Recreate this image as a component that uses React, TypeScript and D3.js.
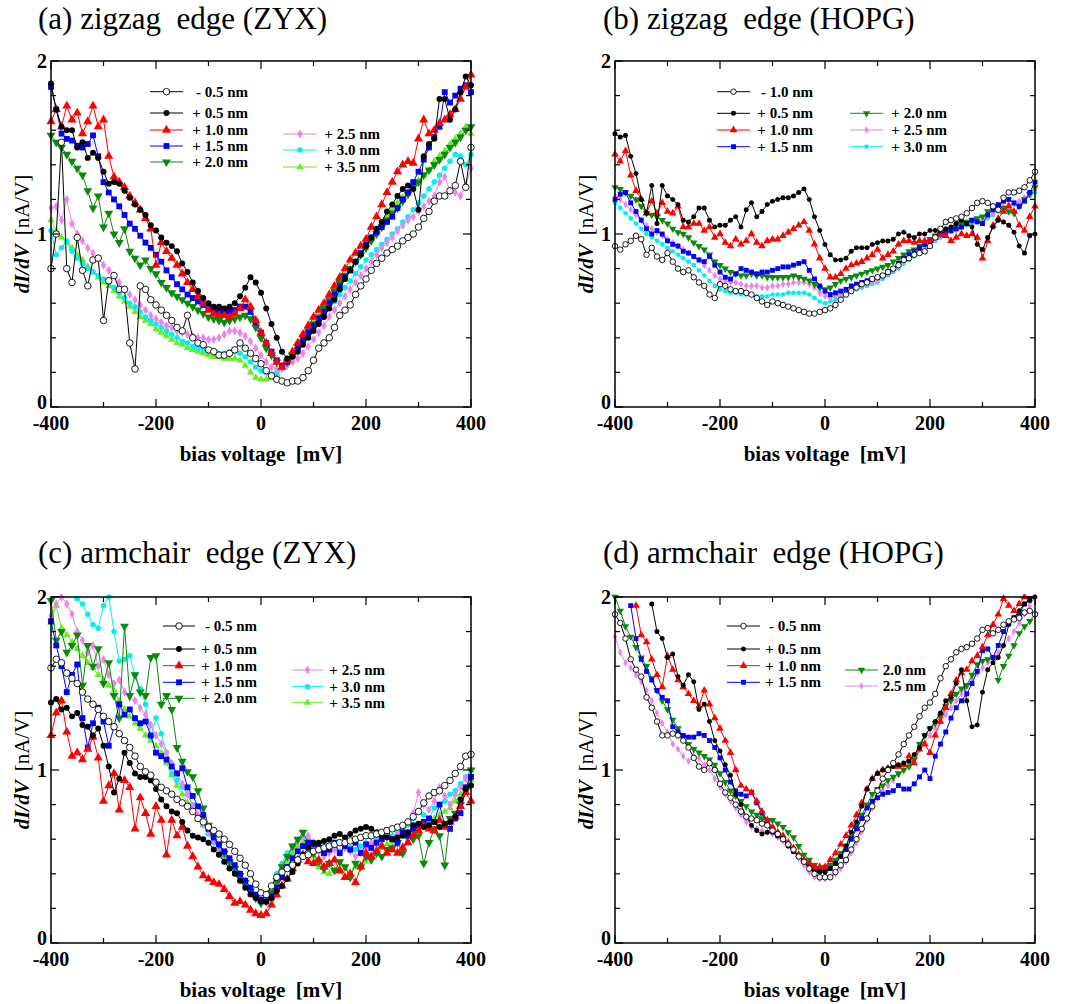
import React from 'react';
import * as d3 from 'd3';

// bias voltage grid, mV
const biasMv = [
  -400, -390, -380, -370, -360, -350, -340, -330, -320,
  -310, -300, -290, -280, -270, -260, -250, -240, -230,
  -220, -210, -200, -190, -180, -170, -160, -150, -140,
  -130, -120, -110, -100, -90, -80, -70, -60, -50,
  -40, -30, -20, -10, 0, 10, 20, 30, 40,
  50, 60, 70, 80, 90, 100, 110, 120, 130,
  140, 150, 160, 170, 180, 190, 200, 210, 220,
  230, 240, 250, 260, 270, 280, 290, 300, 310,
  320, 330, 340, 350, 360, 370, 380, 390, 400,
];

// (a) zigzag edge (ZYX), dI/dV in nA/V
const zzZyxM05 = [
  0.80, 1.00, 1.53, 0.80, 0.72, 0.98, 0.79, 0.70, 0.85,
  0.86, 0.50, 0.73, 0.76, 0.68, 0.68, 0.37, 0.22, 0.70,
  0.68, 0.62, 0.59, 0.56, 0.53, 0.50, 0.46, 0.44, 0.53,
  0.40, 0.37, 0.36, 0.33, 0.32, 0.30, 0.30, 0.31, 0.33,
  0.37, 0.34, 0.31, 0.28, 0.25, 0.21, 0.18, 0.16, 0.15,
  0.14, 0.15, 0.15, 0.17, 0.21, 0.27, 0.34, 0.37, 0.40,
  0.46, 0.53, 0.56, 0.59, 0.65, 0.70, 0.74, 0.79, 0.83,
  0.86, 0.89, 0.91, 0.93, 0.96, 0.98, 1.00, 1.04, 1.09,
  1.13, 1.19, 1.22, 1.22, 1.25, 1.28, 1.42, 1.27, 1.50,
];
const zzZyxP05 = [
  1.87, 1.72, 1.62, 1.60, 1.60, 1.50, 1.53, 1.44, 1.47,
  1.44, 1.36, 1.29, 1.30, 1.29, 1.25, 1.21, 1.17, 1.14,
  1.11, 1.05, 1.02, 0.98, 0.95, 0.93, 0.90, 0.83, 0.78,
  0.72, 0.67, 0.63, 0.60, 0.58, 0.58, 0.57, 0.58, 0.60,
  0.64, 0.69, 0.75, 0.72, 0.66, 0.57, 0.48, 0.40, 0.32,
  0.28, 0.29, 0.32, 0.36, 0.40, 0.44, 0.48, 0.52, 0.57,
  0.62, 0.68, 0.74, 0.79, 0.84, 0.88, 0.93, 0.98, 1.03,
  1.07, 1.13, 1.17, 1.22, 1.26, 1.28, 1.26, 1.14, 1.45,
  1.52, 1.55, 1.78, 1.78, 1.66, 1.72, 1.82, 1.91, 1.86,
];
const zzZyxP10 = [
  1.65, 1.72, 1.62, 1.74, 1.66, 1.70, 1.58, 1.65, 1.74,
  1.62, 1.66, 1.45, 1.33, 1.30, 1.27, 1.22, 1.18, 1.14,
  1.09, 1.03, 0.82, 0.95, 0.90, 0.86, 0.82, 0.77, 0.72,
  0.68, 0.64, 0.60, 0.56, 0.54, 0.53, 0.53, 0.52, 0.54,
  0.57, 0.62, 0.58, 0.50, 0.43, 0.37, 0.31, 0.26, 0.23,
  0.27, 0.32, 0.37, 0.42, 0.47, 0.52, 0.56, 0.60, 0.65,
  0.70, 0.75, 0.80, 0.85, 0.89, 0.93, 0.97, 1.04, 1.10,
  1.17, 1.24, 1.30, 1.36, 1.40, 1.42, 1.41, 1.55, 1.66,
  1.58, 1.60, 1.64, 1.66, 1.69, 1.72, 1.78, 1.85, 1.92,
];
const zzZyxP15 = [
  1.85, 1.72, 1.58, 1.55, 1.54, 1.51, 1.50, 1.52, 1.57,
  1.45, 1.30, 1.24, 1.20, 1.16, 1.11, 1.06, 1.03, 0.99,
  0.95, 0.92, 0.88, 0.84, 0.79, 0.75, 0.71, 0.68, 0.65,
  0.63, 0.61, 0.59, 0.57, 0.56, 0.55, 0.55, 0.55, 0.56,
  0.58, 0.58, 0.55, 0.49, 0.43, 0.37, 0.32, 0.27, 0.24,
  0.26, 0.30, 0.34, 0.39, 0.43, 0.47, 0.51, 0.55, 0.60,
  0.65, 0.70, 0.75, 0.79, 0.84, 0.89, 0.94, 0.98, 1.01,
  1.04, 1.07, 1.10, 1.15, 1.20, 1.24, 1.30, 1.36, 1.43,
  1.50, 1.56, 1.62, 1.82, 1.76, 1.80, 1.84, 1.86, 1.82,
];
const zzZyxP20 = [
  1.57, 1.53, 1.50, 1.46, 1.42, 1.38, 1.34, 1.25, 1.15,
  1.22, 1.04, 1.12, 1.00, 0.95, 1.03, 0.90, 0.86, 0.82,
  0.85, 0.80, 0.77, 0.72, 0.69, 0.66, 0.64, 0.62, 0.60,
  0.58, 0.56, 0.54, 0.52, 0.51, 0.50, 0.49, 0.50, 0.51,
  0.52, 0.53, 0.51, 0.46, 0.40, 0.34, 0.30, 0.26, 0.24,
  0.26, 0.30, 0.35, 0.40, 0.44, 0.48, 0.52, 0.57, 0.62,
  0.67, 0.72, 0.76, 0.80, 0.84, 0.88, 0.92, 0.96, 1.00,
  1.04, 1.08, 1.12, 1.15, 1.19, 1.23, 1.27, 1.30, 1.34,
  1.37, 1.40, 1.43, 1.46, 1.50, 1.53, 1.56, 1.60, 1.62,
];
const zzZyxP25 = [
  1.15, 1.16, 1.08, 1.20, 1.06, 1.00, 0.96, 0.92, 0.89,
  0.86, 0.82, 0.79, 0.76, 0.72, 0.68, 0.65, 0.62, 0.59,
  0.56, 0.53, 0.51, 0.49, 0.47, 0.46, 0.44, 0.43, 0.42,
  0.41, 0.40, 0.40, 0.39, 0.39, 0.40, 0.42, 0.44, 0.44,
  0.43, 0.41, 0.38, 0.34, 0.30, 0.26, 0.23, 0.22, 0.22,
  0.24, 0.26, 0.28, 0.31, 0.35, 0.39, 0.43, 0.47, 0.52,
  0.56, 0.60, 0.64, 0.68, 0.72, 0.76, 0.80, 0.84, 0.88,
  0.92, 0.95, 0.98, 1.02, 1.05, 1.08, 1.10, 1.13, 1.16,
  1.19, 1.22, 1.30, 1.33, 1.25, 1.24, 1.22, 1.28, 1.38,
];
const zzZyxP30 = [
  1.02, 0.88, 0.92, 0.96, 0.90, 0.86, 0.83, 0.80, 0.78,
  0.76, 0.74, 0.72, 0.69, 0.66, 0.63, 0.60, 0.58, 0.55,
  0.52, 0.50, 0.48, 0.46, 0.44, 0.42, 0.40, 0.38, 0.37,
  0.35, 0.34, 0.33, 0.32, 0.32, 0.31, 0.31, 0.32, 0.32,
  0.31, 0.29, 0.26, 0.23, 0.21, 0.20, 0.19, 0.20, 0.22,
  0.25, 0.29, 0.33, 0.37, 0.41, 0.45, 0.49, 0.53, 0.57,
  0.61, 0.65, 0.69, 0.73, 0.77, 0.81, 0.85, 0.88, 0.91,
  0.94, 0.97, 1.00, 1.03, 1.07, 1.10, 1.14, 1.18, 1.22,
  1.26, 1.30, 1.34, 1.38, 1.42, 1.46, 1.45, 1.40, 1.46,
];
const zzZyxP35 = [
  1.08, 1.02, 0.98, 0.95, 0.92, 0.88, 0.85, 0.81, 0.78,
  0.75, 0.72, 0.70, 0.67, 0.64, 0.61, 0.58, 0.55, 0.52,
  0.50, 0.48, 0.45, 0.43, 0.41, 0.39, 0.37, 0.36, 0.34,
  0.33, 0.32, 0.31, 0.30, 0.29, 0.29, 0.28, 0.28, 0.28,
  0.27, 0.24, 0.20, 0.17, 0.16, 0.16, 0.17, 0.19, 0.22,
  0.26, 0.30, 0.35, 0.40, 0.45, 0.49, 0.53, 0.57, 0.61,
  0.66, 0.71, 0.76, 0.80, 0.84, 0.88, 0.92, 0.97, 1.02,
  1.06, 1.10, 1.14, 1.18, 1.21, 1.24, 1.27, 1.31, 1.34,
  1.37, 1.42, 1.45, 1.48, 1.52, 1.55, 1.58, 1.62, 1.58,
];

// (b) zigzag edge (HOPG)
const zzHopgM10 = [
  0.93, 0.91, 0.94, 0.96, 0.99, 0.97, 0.88, 0.92, 0.87,
  0.85, 0.89, 0.84, 0.80, 0.78, 0.79, 0.75, 0.72, 0.70,
  0.65, 0.63, 0.71, 0.70, 0.68, 0.67, 0.67, 0.66, 0.65,
  0.63, 0.61, 0.59, 0.61, 0.60, 0.59, 0.58, 0.57, 0.56,
  0.55, 0.54, 0.54, 0.55, 0.56, 0.57, 0.59, 0.62, 0.65,
  0.67, 0.69, 0.71, 0.72, 0.74, 0.75, 0.76, 0.78, 0.80,
  0.82, 0.85, 0.86, 0.88, 0.89, 0.90, 0.93, 0.98, 1.03,
  1.07, 1.08, 1.09, 1.10, 1.12, 1.15, 1.18, 1.19, 1.18,
  1.16, 1.14, 1.21, 1.24, 1.24, 1.25, 1.27, 1.31, 1.36,
];
const zzHopgP05 = [
  1.58, 1.56, 1.57, 1.45, 1.35, 1.20, 1.12, 1.28, 1.06,
  1.28, 1.22, 1.20, 1.17, 1.08, 1.07, 1.10, 1.15, 1.15,
  1.08, 1.04, 1.05, 1.05, 1.08, 1.10, 1.04, 1.14, 1.18,
  1.10, 1.13, 1.17, 1.19, 1.20, 1.21, 1.21, 1.22, 1.24,
  1.26, 1.20, 1.10, 1.02, 0.94, 0.88, 0.85, 0.85, 0.86,
  0.90, 0.92, 0.92, 0.92, 0.94, 0.95, 0.96, 0.96, 0.97,
  1.00, 1.01, 0.99, 0.98, 1.00, 1.00, 1.02, 1.02, 1.02,
  1.03, 1.04, 1.06, 1.08, 1.06, 1.04, 0.94, 0.91, 0.98,
  1.04, 1.08, 1.07, 1.05, 1.01, 0.93, 0.89, 0.99, 1.00,
];
const zzHopgP10 = [
  1.46, 1.42, 1.48, 1.34, 1.25, 1.20, 1.12, 1.19, 1.12,
  1.18, 1.13, 1.12, 1.16, 1.04, 1.04, 1.06, 1.06, 1.02,
  1.04, 0.98, 1.00, 0.95, 0.93, 0.97, 0.94, 0.96, 1.00,
  0.95, 0.93, 0.96, 0.97, 0.97, 0.99, 1.01, 1.03, 1.05,
  1.07, 1.02, 0.94, 0.86, 0.80, 0.75, 0.75, 0.77, 0.80,
  0.82, 0.83, 0.84, 0.86, 0.88, 0.91, 0.86, 0.88, 0.90,
  0.94, 0.96, 0.96, 0.95, 0.96, 0.96, 0.96, 0.98, 1.00,
  0.99, 0.96, 0.98, 1.00, 0.99, 1.00, 0.98, 0.86, 0.96,
  1.05, 1.09, 1.13, 1.16, 1.13, 1.05, 1.02, 1.10, 1.16,
];
const zzHopgP15 = [
  1.20, 1.23, 1.24, 1.18, 1.13, 1.08, 1.03, 1.00, 1.02,
  1.00, 0.96, 0.94, 0.93, 0.90, 0.89, 0.87, 0.85, 0.84,
  0.87, 0.82, 0.78, 0.75, 0.74, 0.77, 0.80, 0.79, 0.78,
  0.77, 0.78, 0.78, 0.79, 0.80, 0.81, 0.81, 0.82, 0.83,
  0.84, 0.79, 0.74, 0.70, 0.67, 0.65, 0.66, 0.67, 0.68,
  0.70, 0.71, 0.72, 0.73, 0.74, 0.75, 0.76, 0.78, 0.80,
  0.83, 0.86, 0.88, 0.90, 0.92, 0.94, 0.96, 0.98, 1.00,
  1.01, 1.02, 1.03, 1.04, 1.06, 1.08, 1.07, 1.06, 1.11,
  1.14, 1.17, 1.19, 1.20, 1.18, 1.16, 1.19, 1.24, 1.30,
];
const zzHopgP20 = [
  1.27, 1.26, 1.24, 1.22, 1.20, 1.16, 1.12, 1.11, 1.10,
  1.08, 1.06, 1.03, 1.01, 1.00, 0.98, 0.95, 0.93, 0.91,
  0.88, 0.84, 0.82, 0.80, 0.78, 0.77, 0.76, 0.76, 0.77,
  0.76, 0.76, 0.75, 0.75, 0.75, 0.75, 0.75, 0.76, 0.75,
  0.74, 0.73, 0.71, 0.69, 0.68, 0.69, 0.71, 0.73, 0.74,
  0.75, 0.76, 0.77, 0.78, 0.79, 0.80, 0.81, 0.82, 0.84,
  0.86, 0.88, 0.90, 0.91, 0.93, 0.95, 0.97, 0.99, 1.00,
  1.02, 1.03, 1.05, 1.06, 1.07, 1.08, 1.09, 1.10, 1.13,
  1.16, 1.16, 1.15, 1.13, 1.12, 1.16, 1.20, 1.23, 1.27,
];
const zzHopgP25 = [
  1.22, 1.20, 1.17, 1.14, 1.11, 1.08, 1.05, 1.03, 1.01,
  0.99, 0.97, 0.95, 0.93, 0.91, 0.89, 0.87, 0.85, 0.82,
  0.79, 0.76, 0.74, 0.73, 0.72, 0.72, 0.71, 0.70, 0.70,
  0.70, 0.69, 0.69, 0.70, 0.70, 0.71, 0.71, 0.72, 0.72,
  0.72, 0.71, 0.69, 0.66, 0.64, 0.63, 0.64, 0.65, 0.66,
  0.68, 0.69, 0.70, 0.71, 0.72, 0.73, 0.75, 0.77, 0.79,
  0.81, 0.84, 0.86, 0.88, 0.90, 0.93, 0.95, 0.97, 0.99,
  1.01, 1.02, 1.03, 1.05, 1.06, 1.07, 1.08, 1.08, 1.10,
  1.12, 1.14, 1.16, 1.17, 1.18, 1.19, 1.21, 1.23, 1.25,
];
const zzHopgP30 = [
  1.18, 1.15, 1.12, 1.09, 1.06, 1.03, 1.00, 0.98, 0.96,
  0.94, 0.92, 0.90, 0.88, 0.86, 0.84, 0.82, 0.79, 0.76,
  0.73, 0.70, 0.68, 0.67, 0.66, 0.66, 0.65, 0.65, 0.65,
  0.64, 0.64, 0.64, 0.65, 0.65, 0.65, 0.66, 0.66, 0.66,
  0.66, 0.65, 0.63, 0.61, 0.60, 0.61, 0.62, 0.64, 0.65,
  0.67, 0.68, 0.69, 0.70, 0.71, 0.72, 0.74, 0.76, 0.78,
  0.80, 0.83, 0.85, 0.87, 0.89, 0.92, 0.94, 0.96, 0.98,
  1.00, 1.01, 1.02, 1.04, 1.05, 1.06, 1.07, 1.07, 1.09,
  1.11, 1.13, 1.15, 1.16, 1.17, 1.18, 1.20, 1.22, 1.24,
];

// (c) armchair edge (ZYX)
const acZyxM05 = [
  1.59, 1.64, 1.62, 1.56, 1.53, 1.50, 1.45, 1.41, 1.38,
  1.35, 1.31, 1.28, 1.25, 1.21, 1.17, 1.13, 1.08, 1.02,
  0.99, 0.97, 0.93, 0.90, 0.88, 0.86, 0.83, 0.81, 0.79,
  0.76, 0.72, 0.70, 0.67, 0.65, 0.63, 0.60, 0.57, 0.53,
  0.49, 0.45, 0.40, 0.34, 0.29, 0.28, 0.33, 0.38, 0.41,
  0.43, 0.45, 0.48, 0.50, 0.51, 0.53, 0.54, 0.55, 0.56,
  0.57, 0.58, 0.58, 0.59, 0.60, 0.61, 0.62, 0.62, 0.63,
  0.64, 0.65, 0.66, 0.67, 0.68, 0.70, 0.73, 0.76, 0.81,
  0.85, 0.87, 0.88, 0.91, 0.94, 0.98, 1.02, 1.08, 1.09,
];
const acZyxP05 = [
  1.39, 1.41, 1.35, 1.36, 1.31, 1.33, 1.26, 1.25, 1.20,
  1.24, 1.14, 1.02, 0.87, 0.95, 1.10, 1.04, 0.98, 0.96,
  0.96, 0.94, 0.89, 0.83, 0.79, 0.76, 0.75, 0.70, 0.65,
  0.62, 0.61, 0.60, 0.58, 0.54, 0.51, 0.47, 0.43, 0.40,
  0.36, 0.32, 0.28, 0.26, 0.24, 0.24, 0.26, 0.30, 0.33,
  0.37, 0.41, 0.46, 0.51, 0.55, 0.58, 0.58, 0.59, 0.60,
  0.62, 0.63, 0.61, 0.63, 0.65, 0.66, 0.67, 0.66, 0.64,
  0.62, 0.61, 0.60, 0.61, 0.62, 0.64, 0.68, 0.69, 0.67,
  0.68, 0.70, 0.67, 0.69, 0.70, 0.73, 0.83, 0.89, 0.91,
];
const acZyxP10 = [
  1.20, 1.33, 1.40, 1.22, 1.08, 1.10, 1.06, 1.12, 1.19,
  1.07, 0.82, 0.91, 0.98, 0.77, 0.94, 0.90, 0.66, 0.84,
  0.75, 0.63, 0.79, 0.71, 0.51, 0.71, 0.62, 0.67, 0.56,
  0.50, 0.44, 0.39, 0.37, 0.35, 0.34, 0.31, 0.27, 0.23,
  0.24, 0.22, 0.19, 0.17, 0.16, 0.17, 0.22, 0.28, 0.33,
  0.37, 0.43, 0.48, 0.51, 0.47, 0.46, 0.48, 0.44, 0.46,
  0.48, 0.42, 0.38, 0.40, 0.35, 0.44, 0.52, 0.50, 0.53,
  0.56, 0.52, 0.54, 0.52, 0.55, 0.58, 0.62, 0.65, 0.68,
  0.66, 0.65, 0.71, 0.67, 0.70, 0.73, 0.79, 0.87, 0.82,
];
const acZyxP15 = [
  1.86, 1.72, 1.60, 1.45, 1.55, 1.61, 1.30, 1.13, 1.27,
  1.36, 1.28, 1.14, 1.25, 1.38, 1.32, 1.35, 1.30, 1.27,
  1.28, 1.20, 1.10, 1.08, 1.06, 1.02, 0.98, 1.01, 0.90,
  0.85, 0.79, 0.74, 0.66, 0.61, 0.57, 0.53, 0.49, 0.45,
  0.40, 0.36, 0.32, 0.28, 0.25, 0.24, 0.27, 0.32, 0.38,
  0.44, 0.49, 0.53, 0.56, 0.58, 0.57, 0.55, 0.52, 0.54,
  0.58, 0.52, 0.56, 0.54, 0.58, 0.52, 0.57, 0.55, 0.58,
  0.60, 0.65, 0.60, 0.58, 0.64, 0.62, 0.66, 0.68, 0.70,
  0.72, 0.70, 0.80, 0.68, 0.66, 0.72, 0.75, 0.90, 0.96,
];
const acZyxP20 = [
  1.98, 1.75, 1.80, 1.68, 1.72, 1.78, 1.49, 1.72, 1.60,
  1.70, 1.50, 1.62, 1.43, 1.30, 1.83, 1.43, 1.55, 1.45,
  1.43, 1.65, 1.66, 1.38, 1.43, 1.35, 1.13, 1.05, 0.99,
  0.96, 0.88, 0.78, 0.68, 0.62, 0.57, 0.52, 0.47, 0.43,
  0.39, 0.35, 0.30, 0.26, 0.23, 0.24, 0.29, 0.36, 0.44,
  0.50, 0.56, 0.60, 0.64, 0.58, 0.52, 0.47, 0.43, 0.46,
  0.42, 0.47, 0.44, 0.38, 0.46, 0.44, 0.50, 0.48, 0.52,
  0.50, 0.54, 0.55, 0.58, 0.52, 0.63, 0.60, 0.62, 0.46,
  0.58, 0.66, 0.62, 0.45, 0.72, 0.75, 0.80, 0.88, 1.00,
];
const acZyxP25 = [
  1.89, 1.96, 2.00, 1.96, 1.90, 1.80, 1.75, 1.68, 1.72,
  1.60, 1.64, 1.55, 1.50, 1.52, 1.45, 1.42, 1.40, 1.36,
  1.32, 1.26, 1.20, 1.15, 1.10, 1.04, 0.98, 0.92, 0.86,
  0.79, 0.74, 0.69, 0.64, 0.59, 0.55, 0.51, 0.47, 0.43,
  0.40, 0.36, 0.31, 0.27, 0.24, 0.25, 0.30, 0.37, 0.44,
  0.50, 0.55, 0.59, 0.61, 0.62, 0.58, 0.53, 0.50, 0.52,
  0.54, 0.52, 0.55, 0.53, 0.50, 0.52, 0.55, 0.58, 0.57,
  0.60, 0.62, 0.60, 0.63, 0.66, 0.70, 0.75, 0.87, 0.80,
  0.77, 0.82, 0.90, 0.85, 0.80, 0.86, 0.90, 0.95, 1.00,
];
const acZyxP30 = [
  null, null, null, null, null, 1.99, 1.96, 1.90, 1.84,
  1.82, 1.95, 2.00, 1.80, 1.63, 1.64, 1.66, 1.55, 1.47,
  1.38, 1.19, 1.30, 1.21, 1.10, 0.98, 0.94, 0.90, 0.86,
  0.80, 0.73, 0.68, 0.63, 0.58, 0.54, 0.50, 0.46, 0.42,
  0.38, 0.34, 0.30, 0.27, 0.24, 0.26, 0.33, 0.40, 0.46,
  0.52, 0.56, 0.59, 0.61, 0.60, 0.56, 0.54, 0.55, 0.57,
  0.55, 0.53, 0.56, 0.55, 0.54, 0.56, 0.58, 0.56, 0.60,
  0.62, 0.64, 0.62, 0.64, 0.66, 0.68, 0.72, 0.76, 0.74,
  0.72, 0.78, 0.80, 0.82, 0.86, 0.88, 0.92, 0.96, 1.00,
];
const acZyxP35 = [
  1.85, 1.95, 1.82, 1.78, 1.74, 1.70, 1.66, 1.62, 1.59,
  1.55, 1.52, 1.49, 1.46, 1.40, 1.35, 1.31, 1.27, 1.24,
  1.20, 1.17, 1.14, 1.10, 1.04, 0.97, 0.91, 0.86, 0.81,
  0.77, 0.72, 0.68, 0.64, 0.59, 0.55, 0.51, 0.47, 0.43,
  0.39, 0.35, 0.31, 0.27, 0.24, 0.25, 0.30, 0.36, 0.42,
  0.47, 0.52, 0.56, 0.58, 0.55, 0.50, 0.44, 0.41, 0.40,
  0.42, 0.41, 0.43, 0.40, 0.44, 0.45, 0.47, 0.50, 0.52,
  0.55, 0.57, 0.58, 0.60, 0.62, 0.63, 0.65, 0.66, 0.68,
  0.70, 0.72, 0.74, 0.76, 0.78, 0.82, 0.86, 0.90, 0.94,
];

// (d) armchair edge (HOPG)
const acHopgM05 = [
  1.90, 1.85, 1.76, 1.64, 1.58, 1.54, 1.42, 1.36, 1.28,
  1.20, 1.20, 1.21, 1.20, 1.17, 1.13, 1.07, 1.02, 1.00,
  1.04, 1.00, 0.92, 0.87, 0.84, 0.80, 0.76, 0.73, 0.72,
  0.71, 0.69, 0.68, 0.65, 0.63, 0.60, 0.57, 0.54, 0.50,
  0.47, 0.43, 0.40, 0.38, 0.38, 0.38, 0.41, 0.45, 0.48,
  0.54, 0.60, 0.66, 0.72, 0.79, 0.88, 0.95, 1.00, 1.04,
  1.09, 1.15, 1.20, 1.25, 1.31, 1.36, 1.39, 1.44, 1.53,
  1.60, 1.64, 1.68, 1.70, 1.71, 1.73, 1.76, 1.81, 1.82,
  1.79, 1.81, 1.84, 1.86, 1.87, 1.88, 1.91, 1.92, 1.90,
];
const acHopgP05 = [
  null, null, null, null, null, null, null, 1.96, 1.80,
  1.76, 1.65, 1.67, 1.54, 1.49, 1.55, 1.51, 1.35, 1.38,
  1.28, 1.17, 1.11, 1.03, 0.97, 0.86, 0.80, 0.73, 0.68,
  0.65, 0.63, 0.64, 0.64, 0.62, 0.60, 0.56, 0.53, 0.50,
  0.47, 0.44, 0.41, 0.41, 0.41, 0.43, 0.46, 0.50, 0.56,
  0.64, 0.70, 0.79, 0.89, 0.95, 0.98, 1.00, 1.01, 1.02,
  1.03, 1.04, 1.05, 1.09, 1.13, 1.20, 1.24, 1.28, 1.33,
  1.40, 1.42, 1.50, 1.58, 1.40, 1.25, 1.26, 1.45, 1.58,
  1.62, 1.65, 1.72, 1.84, 1.88, 1.92, 1.96, 1.98, 2.00,
];
const acHopgP10 = [
  null, null, null, null, 1.95, 1.78, 1.74, 1.64, 1.55,
  1.48, 1.66, 1.58, 1.52, 1.48, 1.44, 1.40, 1.37, 1.46,
  1.38, 1.30, 1.24, 1.17, 1.10, 1.00, 0.91, 0.89, 0.87,
  0.82, 0.76, 0.71, 0.67, 0.64, 0.62, 0.58, 0.55, 0.51,
  0.48, 0.46, 0.44, 0.44, 0.44, 0.48, 0.52, 0.57, 0.62,
  0.68, 0.74, 0.81, 0.89, 0.95, 0.98, 1.00, 1.01, 1.02,
  1.02, 1.03, 1.08, 1.04, 1.12, 1.15, 1.10, 1.20, 1.28,
  1.36, 1.44, 1.52, 1.56, 1.58, 1.63, 1.66, 1.71, 1.78,
  1.84, 1.90, 1.99, 1.95, 1.92, 1.96, 2.00, null, null,
];
const acHopgP15 = [
  null, null, null, 1.95, 1.76, 1.64, 1.57, 1.52, 1.46,
  1.42, 1.40, 1.25, 1.22, 1.20, 1.19, 1.19, 1.21, 1.20,
  1.17, 1.13, 1.07, 1.00, 0.93, 0.88, 0.86, 0.85, 0.87,
  0.81, 0.75, 0.70, 0.66, 0.62, 0.60, 0.57, 0.53, 0.50,
  0.47, 0.44, 0.43, 0.42, 0.42, 0.43, 0.46, 0.50, 0.54,
  0.60, 0.66, 0.72, 0.78, 0.82, 0.84, 0.86, 0.87, 0.88,
  0.91, 0.89, 0.89, 0.92, 0.96, 1.00, 0.95, 1.08, 1.15,
  1.22, 1.30, 1.36, 1.40, 1.44, 1.50, 1.57, 1.69, 1.70,
  1.65, 1.72, 1.80, 1.85, 1.88, 1.90, 1.96, 1.99, null,
];
const acHopgP20 = [
  2.00, 1.92, 1.83, 1.77, 1.71, 1.65, 1.60, 1.53, 1.46,
  1.40, 1.35, 1.29, 1.24, 1.19, 1.15, 1.12, 1.10, 1.08,
  1.06, 1.03, 0.98, 0.93, 0.88, 0.85, 0.82, 0.79, 0.76,
  0.74, 0.72, 0.71, 0.71, 0.69, 0.67, 0.64, 0.61, 0.56,
  0.51, 0.48, 0.45, 0.43, 0.44, 0.45, 0.48, 0.52, 0.56,
  0.61, 0.68, 0.74, 0.80, 0.86, 0.89, 0.91, 0.94, 0.96,
  0.98, 1.00, 1.02, 1.06, 1.15, 1.20, 1.24, 1.27, 1.31,
  1.37, 1.40, 1.44, 1.47, 1.49, 1.55, 1.61, 1.63, 1.64,
  1.65, 1.52, 1.60, 1.66, 1.72, 1.79, 1.83, 1.86, 1.90,
];
const acHopgP25 = [
  1.77, 1.68, 1.62, 1.59, 1.55, 1.51, 1.46, 1.40, 1.33,
  1.27, 1.22, 1.15, 1.12, 1.08, 1.05, 1.08, 1.07, 1.03,
  1.00, 0.95, 0.90, 0.86, 0.82, 0.78, 0.74, 0.70, 0.67,
  0.66, 0.65, 0.64, 0.63, 0.61, 0.59, 0.56, 0.53, 0.49,
  0.45, 0.41, 0.38, 0.37, 0.37, 0.38, 0.40, 0.43, 0.47,
  0.52, 0.58, 0.64, 0.71, 0.78, 0.84, 0.88, 0.91, 0.94,
  0.97, 1.00, 1.03, 1.07, 1.12, 1.16, 1.20, 1.24, 1.28,
  1.32, 1.36, 1.40, 1.44, 1.48, 1.52, 1.56, 1.59, 1.62,
  1.65, 1.68, 1.72, 1.76, 1.80, 1.85, 1.90, 1.95, 2.00,
];

const xMajorTicks = [-400, -200, 0, 200, 400];
const xMinorTicks = [-300, -100, 100, 300];
const yMajorTicks = [0, 1, 2];
const yMinorTicks = [0.2, 0.4, 0.6, 0.8, 1.2, 1.4, 1.6, 1.8];

const SERIF = "'Liberation Serif', 'Times New Roman', Times, serif";
const PLOT_W = 420;
const PLOT_H = 346;

type Marker = 'open' | 'dot' | 'up' | 'square' | 'down' | 'diamond';
type Look = { color: string; marker: Marker; size: number };

const looks: Record<string, Look> = {
  neg: { color: '#000000', marker: 'open', size: 34 },
  p05: { color: '#000000', marker: 'dot', size: 28 },
  p10: { color: '#ff0000', marker: 'up', size: 36 },
  p15: { color: '#0000ff', marker: 'square', size: 34 },
  p20: { color: '#0a8a0a', marker: 'down', size: 34 },
  p25: { color: '#ee82ee', marker: 'diamond', size: 24 },
  p30: { color: '#00f0f0', marker: 'dot', size: 24 },
  p35: { color: '#66ee22', marker: 'up', size: 24 },
};

type Series = { label: string; values: (number | null)[]; look: Look; col: number; row: number };
type LegendCol = { x1: number; x2: number; textEnd: number; rows: number[] };
type PanelCfg = {
  id: string;
  title: string;
  titleX: number;
  titleY: number;
  left: number;
  top: number;
  k: number;
  cols: LegendCol[];
  series: Series[];
};

const panels: PanelCfg[] = [
  {
    id: 'a', title: '(a) zigzag  edge (ZYX)', titleX: 38, titleY: 29, left: 51, top: 61, k: 1,
    cols: [
      { x1: 99, x2: 132, textEnd: 197, rows: [30.7, 52, 69, 85, 101] },
      { x1: 232, x2: 266, textEnd: 329, rows: [73, 89, 106] },
    ],
    series: [
      { label: '- 0.5 nm', values: zzZyxM05, look: looks.neg, col: 0, row: 0 },
      { label: '+ 0.5 nm', values: zzZyxP05, look: looks.p05, col: 0, row: 1 },
      { label: '+ 1.0 nm', values: zzZyxP10, look: looks.p10, col: 0, row: 2 },
      { label: '+ 1.5 nm', values: zzZyxP15, look: looks.p15, col: 0, row: 3 },
      { label: '+ 2.0 nm', values: zzZyxP20, look: looks.p20, col: 0, row: 4 },
      { label: '+ 2.5 nm', values: zzZyxP25, look: looks.p25, col: 1, row: 0 },
      { label: '+ 3.0 nm', values: zzZyxP30, look: looks.p30, col: 1, row: 1 },
      { label: '+ 3.5 nm', values: zzZyxP35, look: looks.p35, col: 1, row: 2 },
    ],
  },
  {
    id: 'b', title: '(b) zigzag  edge (HOPG)', titleX: 603, titleY: 29, left: 615, top: 61, k: 0.7,
    cols: [
      { x1: 102, x2: 135, textEnd: 198, rows: [30.7, 52.3, 69, 85.7] },
      { x1: 235, x2: 268, textEnd: 332, rows: [52.3, 69, 85.7] },
    ],
    series: [
      { label: '- 1.0 nm', values: zzHopgM10, look: looks.neg, col: 0, row: 0 },
      { label: '+ 0.5 nm', values: zzHopgP05, look: looks.p05, col: 0, row: 1 },
      { label: '+ 1.0 nm', values: zzHopgP10, look: looks.p10, col: 0, row: 2 },
      { label: '+ 1.5 nm', values: zzHopgP15, look: looks.p15, col: 0, row: 3 },
      { label: '+ 2.0 nm', values: zzHopgP20, look: looks.p20, col: 1, row: 0 },
      { label: '+ 2.5 nm', values: zzHopgP25, look: looks.p25, col: 1, row: 1 },
      { label: '+ 3.0 nm', values: zzHopgP30, look: looks.p30, col: 1, row: 2 },
    ],
  },
  {
    id: 'c', title: '(c) armchair  edge (ZYX)', titleX: 38, titleY: 563, left: 51, top: 597, k: 1,
    cols: [
      { x1: 112, x2: 144, textEnd: 206, rows: [29, 52, 68.7, 85.3, 101.3] },
      { x1: 241, x2: 272, textEnd: 334, rows: [73, 89.7, 105.7] },
    ],
    series: [
      { label: '- 0.5 nm', values: acZyxM05, look: looks.neg, col: 0, row: 0 },
      { label: '+ 0.5 nm', values: acZyxP05, look: looks.p05, col: 0, row: 1 },
      { label: '+ 1.0 nm', values: acZyxP10, look: looks.p10, col: 0, row: 2 },
      { label: '+ 1.5 nm', values: acZyxP15, look: looks.p15, col: 0, row: 3 },
      { label: '+ 2.0 nm', values: acZyxP20, look: looks.p20, col: 0, row: 4 },
      { label: '+ 2.5 nm', values: acZyxP25, look: looks.p25, col: 1, row: 0 },
      { label: '+ 3.0 nm', values: acZyxP30, look: looks.p30, col: 1, row: 1 },
      { label: '+ 3.5 nm', values: acZyxP35, look: looks.p35, col: 1, row: 2 },
    ],
  },
  {
    id: 'd', title: '(d) armchair  edge (HOPG)', titleX: 603, titleY: 563, left: 615, top: 597, k: 0.7,
    cols: [
      { x1: 112, x2: 145, textEnd: 206, rows: [29, 52, 68.7, 85.3] },
      { x1: 230, x2: 263, textEnd: 311, rows: [73, 89] },
    ],
    series: [
      { label: '- 0.5 nm', values: acHopgM05, look: looks.neg, col: 0, row: 0 },
      { label: '+ 0.5 nm', values: acHopgP05, look: looks.p05, col: 0, row: 1 },
      { label: '+ 1.0 nm', values: acHopgP10, look: looks.p10, col: 0, row: 2 },
      { label: '+ 1.5 nm', values: acHopgP15, look: looks.p15, col: 0, row: 3 },
      { label: '2.0 nm', values: acHopgP20, look: looks.p20, col: 1, row: 0 },
      { label: '2.5 nm', values: acHopgP25, look: looks.p25, col: 1, row: 1 },
    ],
  },
];

function symbolPath(m: Marker, size: number) {
  const type =
    m === 'up' || m === 'down' ? d3.symbolTriangle
      : m === 'square' ? d3.symbolSquare
        : m === 'diamond' ? d3.symbolDiamond
          : d3.symbolCircle;
  return d3.symbol(type, size)() as string;
}

function Mark({ look, k, x, y }: { look: Look; k: number; x: number; y: number }) {
  const d = symbolPath(look.marker, look.size * k);
  const rot = look.marker === 'down' ? ' rotate(180)' : '';
  const open = look.marker === 'open';
  return (
    <path
      d={d}
      transform={`translate(${x},${y})${rot}`}
      fill={open ? '#ffffff' : look.color}
      stroke={open ? '#000000' : 'none'}
      strokeWidth={open ? 0.9 : 0}
    />
  );
}

function Panel({ p }: { p: PanelCfg }) {
  const x = d3.scaleLinear().domain([-400, 400]).range([p.left, p.left + PLOT_W]);
  const y = d3.scaleLinear().domain([0, 2]).range([p.top + PLOT_H, p.top]);
  const right = p.left + PLOT_W;
  const bottom = p.top + PLOT_H;
  const line = d3
    .line<number | null>()
    .defined((v) => v != null)
    .x((_, i) => x(biasMv[i]))
    .y((v) => y(v as number));
  const clipId = `clip-${p.id}`;
  const major = 8;
  const minor = 5;

  return (
    <g fontFamily={SERIF}>
      <defs>
        <clipPath id={clipId}>
          <rect x={p.left - 5} y={p.top - 3} width={PLOT_W + 10} height={PLOT_H + 6} />
        </clipPath>
      </defs>
      <text x={p.titleX} y={p.titleY} fontSize={31} style={{ whiteSpace: 'pre' }}>
        {p.title}
      </text>

      <g clipPath={`url(#${clipId})`}>
        {[...p.series].reverse().map((s) => (
          <g key={s.label}>
            <path d={line(s.values) || ''} fill="none" stroke={s.look.color} strokeWidth={1} />
            {s.values.map((v, i) =>
              v == null ? null : <Mark key={i} look={s.look} k={p.k} x={x(biasMv[i])} y={y(v)} />
            )}
          </g>
        ))}
      </g>

      <rect x={p.left} y={p.top} width={PLOT_W} height={PLOT_H} fill="none" stroke="#000" strokeWidth={1.5} />

      {xMajorTicks.concat(xMinorTicks).map((t) => {
        const len = xMajorTicks.includes(t) ? major : minor;
        return (
          <g key={`xt${t}`} stroke="#000" strokeWidth={1.2}>
            <line x1={x(t)} x2={x(t)} y1={bottom} y2={bottom - len} />
            <line x1={x(t)} x2={x(t)} y1={p.top} y2={p.top + len} />
          </g>
        );
      })}
      {yMajorTicks.concat(yMinorTicks).map((t) => {
        const len = yMajorTicks.includes(t) ? major : minor;
        return (
          <g key={`yt${t}`} stroke="#000" strokeWidth={1.2}>
            <line x1={p.left} x2={p.left + len} y1={y(t)} y2={y(t)} />
            <line x1={right} x2={right - len} y1={y(t)} y2={y(t)} />
          </g>
        );
      })}

      {xMajorTicks.map((t) => (
        <text key={`xl${t}`} x={x(t)} y={bottom + 23} textAnchor="middle" fontSize={20} fontWeight="bold">
          {t}
        </text>
      ))}
      {yMajorTicks.map((t) => (
        <text key={`yl${t}`} x={p.left - 4} y={y(t) + (t === 0 ? 2 : 7)} textAnchor="end" fontSize={20} fontWeight="bold">
          {t}
        </text>
      ))}

      <text x={(p.left + right) / 2} y={bottom + 54} textAnchor="middle" fontSize={21} fontWeight="bold" style={{ whiteSpace: 'pre' }}>
        bias voltage  [mV]
      </text>
      <text transform={`translate(${p.left - 22},${(p.top + bottom) / 2}) rotate(-90)`} textAnchor="middle" fontSize={21}>
        <tspan fontWeight="bold" fontStyle="italic">dI/dV</tspan>
        <tspan dx={9}>[nA/V]</tspan>
      </text>

      {p.series.map((s) => {
        const c = p.cols[s.col];
        const ly = p.top + c.rows[s.row];
        const lx1 = p.left + c.x1;
        const lx2 = p.left + c.x2;
        return (
          <g key={`lg${s.label}`}>
            <line x1={lx1} x2={lx2} y1={ly} y2={ly} stroke={s.look.color} strokeWidth={1} />
            <Mark look={s.look} k={p.k} x={(lx1 + lx2) / 2} y={ly} />
            <text x={p.left + c.textEnd} y={ly + 5} textAnchor="end" fontSize={15} fontWeight="bold" style={{ whiteSpace: 'pre' }}>
              {s.label}
            </text>
          </g>
        );
      })}
    </g>
  );
}

export default function App() {
  return (
    <svg
      width={1073}
      height={1004}
      viewBox="0 0 1073 1004"
      style={{ position: 'absolute', left: 0, top: 0, display: 'block', background: '#ffffff' }}
    >
      <rect x={0} y={0} width={1073} height={1004} fill="#ffffff" />
      {panels.map((p) => (
        <Panel key={p.id} p={p} />
      ))}
    </svg>
  );
}
